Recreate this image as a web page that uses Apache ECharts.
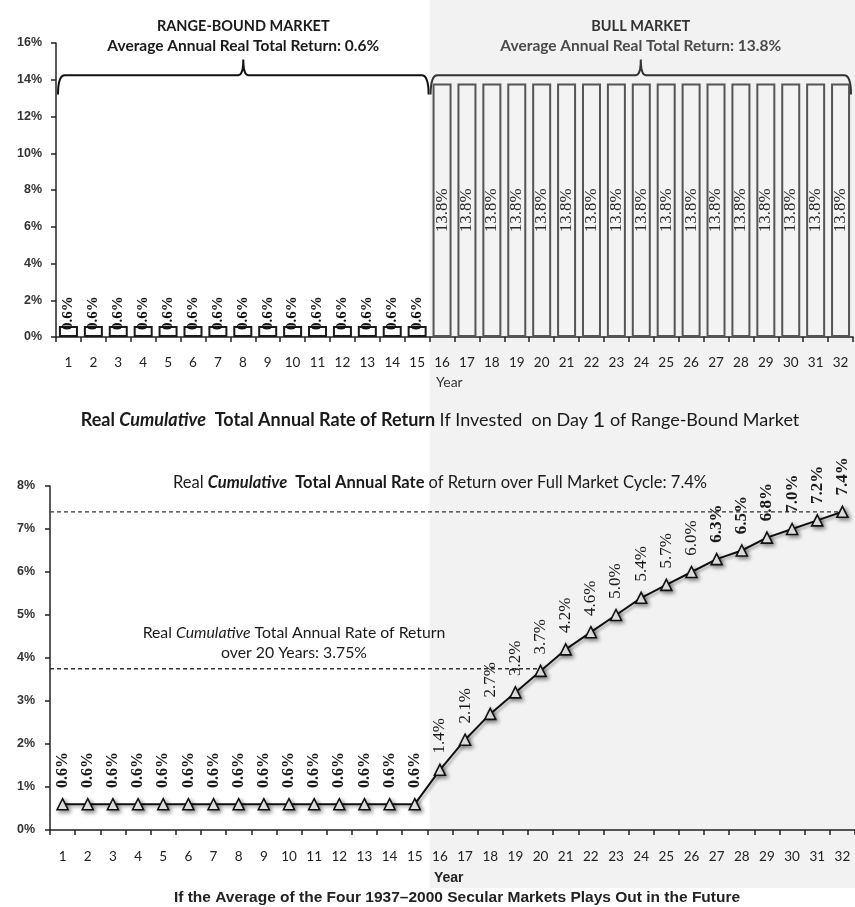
<!DOCTYPE html>
<html>
<head>
<meta charset="utf-8">
<script src="https://cdn.jsdelivr.net/npm/echarts@6/dist/echarts.min.js"></script>
<style>
  html, body { margin: 0; padding: 0; background: #ffffff; }
  #chart { width: 855px; height: 907px; }
</style>
</head>
<body>
<div id="chart"></div>
<script>
// Years of the market cycle
const years = ['1','2','3','4','5','6','7','8','9','10','11','12','13','14','15','16',
               '17','18','19','20','21','22','23','24','25','26','27','28','29','30','31','32'];

// Annual real total return, %: range-bound years 1-15, bull years 16-32
const rangeBoundAnnual = [0.6, 0.6, 0.6, 0.6, 0.6, 0.6, 0.6, 0.6, 0.6, 0.6, 0.6, 0.6, 0.6, 0.6, 0.6];
const bullAnnual = [13.8, 13.8, 13.8, 13.8, 13.8, 13.8, 13.8, 13.8, 13.8, 13.8, 13.8, 13.8, 13.8, 13.8, 13.8, 13.8, 13.8];

// Cumulative annualised real return if invested on day 1, %
const cumulativeReturn = [0.6, 0.6, 0.6, 0.6, 0.6, 0.6, 0.6, 0.6, 0.6, 0.6, 0.6, 0.6, 0.6, 0.6, 0.6,
                          1.4, 2.1, 2.7, 3.2, 3.7, 4.2, 4.6, 5.0, 5.4, 5.7, 6.0, 6.3, 6.5, 6.8, 7.0, 7.2, 7.4];

const rangeBoundAverage = 0.6;
const bullAverage = 13.8;
const fullCycleReturn = 7.4;
const twentyYearReturn = 3.75;
const twentyYearEnd = 20;

const topTicks = { min: 0, max: 16, interval: 2 };
const bottomTicks = { min: 0, max: 8, interval: 1 };

const rangeCount = rangeBoundAnnual.length;
const annualReturns = rangeBoundAnnual.concat(bullAnnual);

const SERIF = '"Liberation Serif", "DejaVu Serif", serif';
const SANS = '"Liberation Sans", Arial, sans-serif';
const CAL = 'Lato, "Open Sans", sans-serif';

const barData = annualReturns.map((v, i) => {
  const inRange = i < rangeCount;
  return {
    value: v,
    itemStyle: inRange
      ? { color: '#ffffff', borderColor: '#1a1a1a', borderWidth: 2 }
      : { color: '#f3f3f3', borderColor: '#555555', borderWidth: 2 },
    label: inRange
      ? { position: 'top', distance: -4, rotate: 90, align: 'left', verticalAlign: 'middle',
          fontFamily: SERIF, fontWeight: 'bold', fontSize: 15, color: '#111' }
      : { position: 'inside', rotate: 90, align: 'center', verticalAlign: 'middle',
          fontFamily: SERIF, fontSize: 17, color: '#2a2a2a' }
  };
});

const lineData = cumulativeReturn.map((v, i) => ({
  value: v,
  label: {
    fontWeight: (i < rangeCount || i >= 26) ? 'bold' : 'normal',
    fontSize: i < rangeCount ? 16 : 17
  }
}));

const yLabel = (m) => ({
  formatter: '{value}%', fontFamily: SANS, fontWeight: 'bold', fontSize: 12.5, color: '#333', margin: m
});

const option = {
  backgroundColor: '#ffffff',
  animation: false,
  grid: [
    { left: 56, width: 797, top: 43, height: 294 },
    { left: 50, width: 811, top: 486, height: 344 }
  ],
  xAxis: [
    {
      gridIndex: 0, type: 'category', data: years,
      axisLine: { lineStyle: { color: '#222', width: 1.5 } },
      axisTick: { show: true, alignWithLabel: false, length: 5, lineStyle: { color: '#222', width: 1.5 } },
      axisLabel: { interval: 0, fontFamily: CAL, fontSize: 13.5, color: '#222', margin: 19 }
    },
    {
      gridIndex: 1, type: 'category', data: years,
      axisLine: { lineStyle: { color: '#222', width: 1.5 } },
      axisTick: { show: true, alignWithLabel: false, length: 5, lineStyle: { color: '#222', width: 1.5 } },
      axisLabel: { interval: 0, fontFamily: CAL, fontSize: 13.5, color: '#222', margin: 20 }
    },
    {
      // continuous year scale for the dashed reference lines
      gridIndex: 1, type: 'value', min: 0.5, max: years.length + 0.5, show: false
    }
  ],
  yAxis: [
    {
      gridIndex: 0, type: 'value', min: topTicks.min, max: topTicks.max, interval: topTicks.interval,
      axisLine: { show: true, lineStyle: { color: '#222', width: 1.5 } },
      axisTick: { show: true, length: 5, lineStyle: { color: '#222', width: 1.5 } },
      splitLine: { show: false },
      axisLabel: yLabel(14)
    },
    {
      gridIndex: 1, type: 'value', min: bottomTicks.min, max: bottomTicks.max, interval: bottomTicks.interval,
      axisLine: { show: true, lineStyle: { color: '#222', width: 1.5 } },
      axisTick: { show: true, length: 5, lineStyle: { color: '#222', width: 1.5 } },
      splitLine: { show: false },
      axisLabel: yLabel(15)
    }
  ],
  series: [
    {
      name: 'Annual', type: 'bar', xAxisIndex: 0, yAxisIndex: 0,
      barWidth: 19,
      data: barData,
      label: { show: true, formatter: (p) => p.value.toFixed(1) + '%' }
    },
    {
      name: 'Full cycle', type: 'line', xAxisIndex: 2, yAxisIndex: 1,
      data: [[0.5, fullCycleReturn], [years.length, fullCycleReturn]],
      symbol: 'none', silent: true,
      lineStyle: { color: '#333', width: 1.3, type: [4, 3] }
    },
    {
      name: 'Twenty years', type: 'line', xAxisIndex: 2, yAxisIndex: 1,
      data: [[0.5, twentyYearReturn], [twentyYearEnd, twentyYearReturn]],
      symbol: 'none', silent: true,
      lineStyle: { color: '#333', width: 1.3, type: [4, 3] }
    },
    {
      name: 'Cumulative', type: 'line', xAxisIndex: 1, yAxisIndex: 1,
      data: lineData,
      symbol: 'triangle', symbolSize: 11,
      lineStyle: { color: '#111', width: 2, shadowColor: 'rgba(0,0,0,0.35)', shadowBlur: 3, shadowOffsetX: 2, shadowOffsetY: 2 },
      itemStyle: { color: '#ffffff', borderColor: '#111', borderWidth: 1.6,
                   shadowColor: 'rgba(0,0,0,0.45)', shadowBlur: 4, shadowOffsetX: 2, shadowOffsetY: 2 },
      label: {
        show: true, position: 'top', distance: 10, rotate: 90, align: 'left', verticalAlign: 'middle',
        fontFamily: SERIF, color: '#1a1a1a',
        formatter: (p) => p.value.toFixed(1) + '%'
      },
      z: 5
    }
  ]
};

const chart = echarts.init(document.getElementById('chart'), null, { renderer: 'canvas' });
chart.setOption(option);

// Annotations placed from the axes' own pixel mapping
const px = (axis, cat) => chart.convertToPixel({ xAxisIndex: axis }, cat);
const py = (axis, v) => chart.convertToPixel({ yAxisIndex: axis }, v);

const half = (px(0, years[1]) - px(0, years[0])) / 2;
const split = (px(0, years[rangeCount - 1]) + px(0, years[rangeCount])) / 2;

// quadratic curve sampled into polyline points
function quad(p0, c, p1, n) {
  const out = [];
  for (let k = 1; k <= n; k++) {
    const t = k / n, a = (1 - t) * (1 - t), b = 2 * (1 - t) * t, d = t * t;
    out.push([a * p0[0] + b * c[0] + d * p1[0], a * p0[1] + b * c[1] + d * p1[1]]);
  }
  return out;
}

function bracket(x0, x1) {
  const yl = py(0, 14.25), ye = py(0, 13.2), yn = py(0, 15.1);
  const mid = (x0 + x1) / 2;
  let pts = [[x0, ye]];
  pts = pts.concat(quad([x0, ye], [x0, yl], [x0 + 7, yl], 8));
  pts.push([mid - 5, yl]);
  pts = pts.concat(quad([mid - 5, yl], [mid, yl], [mid, yn], 6));
  pts = pts.concat(quad([mid, yn], [mid, yl], [mid + 5, yl], 6));
  pts.push([x1 - 7, yl]);
  pts = pts.concat(quad([x1 - 7, yl], [x1, yl], [x1, ye], 8));
  return { points: pts, mid };
}
const leftB = bracket(px(0, years[0]) - half + 2, px(0, years[rangeCount - 1]) + half - 1);
const rightB = bracket(px(0, years[rangeCount]) - half + 1, px(0, years[years.length - 1]) + half - 2);

const richBase = { fontFamily: CAL, fontSize: 14, fill: '#1a1a1a' };

chart.setOption({
  graphic: [
    { type: 'rect', z: -10, silent: true,
      shape: { x: split, y: 0, width: 855 - split, height: 888 },
      style: { fill: '#f2f2f2' } },
    { type: 'polyline', shape: { points: leftB.points }, style: { fill: null, stroke: '#111', lineWidth: 2 } },
    { type: 'polyline', shape: { points: rightB.points }, style: { fill: null, stroke: '#333', lineWidth: 2 } },
    { type: 'text', x: leftB.mid, y: 17,
      style: { text: '{h|RANGE-BOUND MARKET}\n{s|Average Annual Real Total Return: ' + rangeBoundAverage + '%}',
               align: 'center',
               rich: { h: { fontFamily: CAL, fontWeight: 'bold', fontSize: 14.5, lineHeight: 19, fill: '#1a1a1a' },
                       s: { fontFamily: CAL, fontWeight: 'bold', fontSize: 15.5, lineHeight: 19, fill: '#1a1a1a' } } } },
    { type: 'text', x: rightB.mid, y: 17,
      style: { text: '{h|BULL MARKET}\n{s|Average Annual Real Total Return: ' + bullAverage + '%}',
               align: 'center',
               rich: { h: { fontFamily: CAL, fontWeight: 'bold', fontSize: 14.5, lineHeight: 19, fill: '#333' },
                       s: { fontFamily: CAL, fontWeight: 'bold', fontSize: 15.5, lineHeight: 19, fill: '#4a4a4a' } } } },
    { type: 'text', x: px(0, years[rangeCount]) - 6, y: 375,
      style: { text: 'Year', font: '14px ' + CAL, fill: '#333' } },
    { type: 'text', x: 440, y: 409,
      style: { text: '{b|Real }{bi|Cumulative}{b|  Total Annual Rate of Return }{r|If Invested  on Day }{big|1}{r| of Range-Bound Market}',
               align: 'center',
               rich: {
                 b: { ...richBase, fontSize: 18, fontWeight: 'bold' },
                 bi: { ...richBase, fontSize: 18, fontWeight: 'bold', fontStyle: 'italic' },
                 r: { ...richBase, fontSize: 18 },
                 big: { ...richBase, fontSize: 22 }
               } } },
    { type: 'text', x: 440, y: 474,
      style: { text: '{r|Real }{i|Cumulative}{b|  Total Annual Rate }{r|of Return over Full Market Cycle: ' + fullCycleReturn + '%}',
               align: 'center',
               rich: {
                 r: { ...richBase, fontSize: 16.5 },
                 i: { ...richBase, fontSize: 16.5, fontWeight: 'bold', fontStyle: 'italic' },
                 b: { ...richBase, fontSize: 16.5, fontWeight: 'bold' }
               } } },
    { type: 'text', x: 294, y: 623,
      style: { text: '{r|Real }{i|Cumulative}{r| Total Annual Rate of Return}\n{r|over 20 Years: ' + twentyYearReturn + '%}',
               align: 'center',
               rich: {
                 r: { ...richBase, fontSize: 15.8, lineHeight: 20 },
                 i: { ...richBase, fontSize: 15.8, fontStyle: 'italic', lineHeight: 20 }
               } } },
    { type: 'text', x: px(1, years[rangeCount]) - 6, y: 871,
      style: { text: 'Year', font: 'bold 14px ' + SANS, fill: '#222' } },
    { type: 'text', x: 457, y: 890,
      style: { text: 'If the Average of the Four 1937\u20132000 Secular Markets Plays Out in the Future',
               align: 'center', font: 'bold 15.5px ' + SANS, fill: '#222' } }
  ]
});
</script>
</body>
</html>
